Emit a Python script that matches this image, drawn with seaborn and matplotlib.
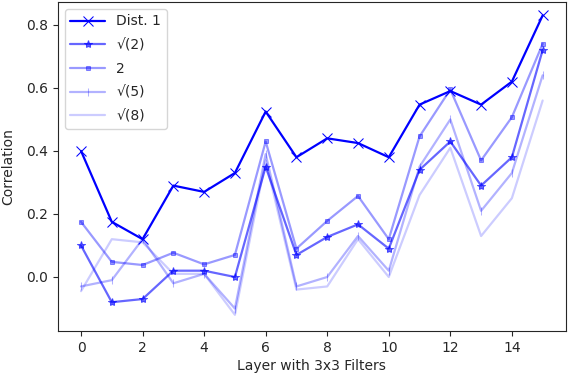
import matplotlib
matplotlib.use("Agg")
import matplotlib.pyplot as plt
import numpy as np
import pandas as pd
import seaborn as sns

# ==========================================================
# Data
# ==========================================================

layers = list(range(16))

dist_1 = [0.40, 0.175, 0.12, 0.29, 0.27, 0.33, 0.525, 0.38,
          0.44, 0.425, 0.38, 0.547, 0.59, 0.547, 0.62, 0.83]
dist_sqrt2 = [0.10, -0.08, -0.07, 0.02, 0.02, 0.00, 0.35, 0.07,
              0.127, 0.167, 0.09, 0.34, 0.43, 0.29, 0.38, 0.72]
dist_2 = [0.175, 0.048, 0.038, 0.077, 0.04, 0.07, 0.43, 0.09,
          0.178, 0.257, 0.12, 0.446, 0.595, 0.37, 0.507, 0.74]
dist_sqrt5 = [-0.03, -0.01, 0.12, -0.02, 0.01, -0.10, 0.39, -0.03,
              0.00, 0.13, 0.02, 0.35, 0.50, 0.21, 0.33, 0.64]
dist_sqrt8 = [-0.045, 0.12, 0.11, 0.01, 0.01, -0.12, 0.37, -0.04,
              -0.03, 0.12, 0.00, 0.26, 0.41, 0.13, 0.25, 0.56]

labels = ["Dist. 1", "√(2)", "2", "√(5)", "√(8)"]
series = [dist_1, dist_sqrt2, dist_2, dist_sqrt5, dist_sqrt8]

# ==========================================================
# Styling
# ==========================================================

markers = ["x", "*", "s", "|", None]
marker_sizes = [7, 6, 3, 6, 0]
alphas = [1.0, 0.6, 0.4, 0.3, 0.2]


def main() -> None:
    sns.set_style("ticks")
    plt.rcParams["font.family"] = ["DejaVu Sans"]

    fig, ax = plt.subplots(figsize=(5.68, 3.76), dpi=100)
    fig.subplots_adjust(left=0.102, right=0.996, top=0.995, bottom=0.12)

    for label, values, marker, ms, alpha in zip(
        labels, series, markers, marker_sizes, alphas
    ):
        df = pd.DataFrame({"layer": layers, "corr": values})
        kwargs = dict(marker=marker, markersize=ms, markeredgecolor="blue")
        if marker is None:
            kwargs = {}
        sns.lineplot(
            data=df,
            x="layer",
            y="corr",
            ax=ax,
            color="blue",
            alpha=alpha,
            linewidth=1.6,
            label=label,
            **kwargs,
        )

    ax.set_xlabel("Layer with 3x3 Filters", labelpad=3)
    ax.set_ylabel("Correlation", labelpad=8)
    ax.set_ylim(-0.171, 0.873)
    ax.set_xticks(np.arange(0, 16, 2))
    ax.legend(loc="upper left", frameon=True, handlelength=2.5,
              labelspacing=0.7)

    fig.savefig("out.png", dpi=100)
    plt.close(fig)


if __name__ == "__main__":
    main()
